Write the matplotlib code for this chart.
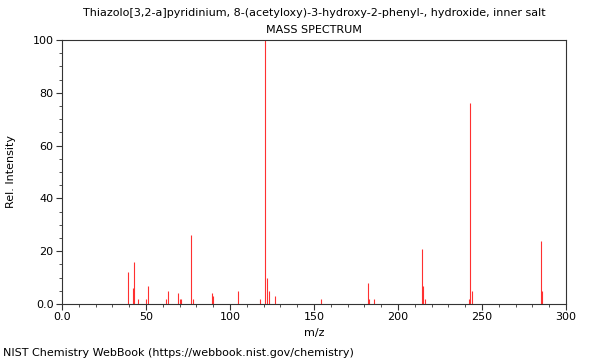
import matplotlib
matplotlib.use("Agg")
import matplotlib.pyplot as plt
from matplotlib.ticker import MultipleLocator, FixedFormatter, FixedLocator

# peaks (m/z, relative intensity)
mz = [39, 42, 43, 45, 50, 51, 62, 63, 69, 70, 71, 77, 78, 89, 90, 105, 118,
      121, 122, 123, 127, 154, 182, 183, 186, 214, 215, 216, 242, 243, 244,
      285, 286]
intensity = [12, 6, 16, 2, 2, 7, 2, 5, 4, 2, 2, 26, 2, 4, 3, 5, 2,
             100, 10, 5, 3, 2, 8, 2, 2, 21, 7, 2, 2, 76, 5,
             24, 5]

x_ticks = [0, 50, 100, 150, 200, 250, 300]
x_labels = ["0.0", "50", "100", "150", "200", "250", "300"]
y_ticks = [0, 20, 40, 60, 80, 100]
y_labels = ["0.0", "20", "40", "60", "80", "100"]

title = "Thiazolo[3,2-a]pyridinium, 8-(acetyloxy)-3-hydroxy-2-phenyl-, hydroxide, inner salt"

plt.rcParams.update({"font.family": "DejaVu Sans", "font.size": 8})

fig = plt.figure(figsize=(6, 3.6), dpi=100)
ax = fig.add_axes([62 / 600, 1 - 304 / 360, 504 / 600, 264 / 360])

ax.vlines(mz, 0, intensity, colors="#ff3030", linewidth=0.8)

ax.set_xlim(0, 300)
ax.set_ylim(0, 100)

ax.xaxis.set_major_locator(FixedLocator(x_ticks))
ax.xaxis.set_major_formatter(FixedFormatter(x_labels))
ax.xaxis.set_minor_locator(MultipleLocator(10))
ax.yaxis.set_major_locator(FixedLocator(y_ticks))
ax.yaxis.set_major_formatter(FixedFormatter(y_labels))
ax.yaxis.set_minor_locator(MultipleLocator(5))

ax.tick_params(which="major", length=4, width=0.8, color="#333333", labelsize=8, pad=2)
ax.tick_params(which="minor", length=2.5, width=0.6, color="#333333")
for s in ax.spines.values():
    s.set_linewidth(0.8)
    s.set_color("#333333")

ax.set_xlabel("m/z", fontsize=8, labelpad=4)
ax.set_ylabel("Rel. Intensity", fontsize=8, labelpad=12)

# titles are centred over the axes, not the figure
cx = (62 + 252) / 600
fig.text(cx, 1 - 13 / 360, title, ha="center", va="center", fontsize=8)
fig.text(cx, 1 - 30 / 360, "MASS SPECTRUM", ha="center", va="center", fontsize=8)
fig.text(3 / 600, 1 - 353 / 360, "NIST Chemistry WebBook (https://webbook.nist.gov/chemistry)",
         ha="left", va="center", fontsize=8)

fig.savefig("out.png", dpi=100)
